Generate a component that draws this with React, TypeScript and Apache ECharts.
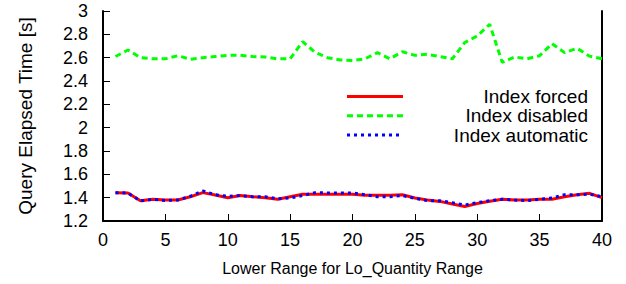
import React, { useEffect, useRef } from "react";
import * as echarts from "echarts";

const xValues = Array.from({ length: 40 }, (_, i) => i + 1);

const indexForced = [
  1.443, 1.44, 1.374, 1.386, 1.38, 1.38, 1.408, 1.443, 1.423, 1.4,
  1.418, 1.408, 1.4, 1.386, 1.408, 1.43, 1.43, 1.43, 1.43, 1.43,
  1.42, 1.42, 1.42, 1.425, 1.397, 1.38, 1.368, 1.346, 1.325, 1.35,
  1.37, 1.386, 1.38, 1.38, 1.386, 1.386, 1.408, 1.425, 1.437, 1.4,
];

const indexDisabled = [
  2.61, 2.666, 2.6, 2.59, 2.59, 2.617, 2.586, 2.6, 2.61, 2.62,
  2.62, 2.61, 2.605, 2.59, 2.59, 2.737, 2.646, 2.6, 2.58, 2.575,
  2.59, 2.643, 2.59, 2.651, 2.62, 2.629, 2.61, 2.59, 2.73, 2.786,
  2.886, 2.56, 2.606, 2.59, 2.617, 2.72, 2.643, 2.68, 2.613, 2.59,
];

const indexAutomatic = [
  1.443, 1.44, 1.372, 1.386, 1.376, 1.38, 1.412, 1.457, 1.425, 1.412,
  1.418, 1.408, 1.408, 1.39, 1.398, 1.418, 1.443, 1.44, 1.44, 1.44,
  1.425, 1.408, 1.408, 1.418, 1.395, 1.374, 1.374, 1.357, 1.337, 1.357,
  1.374, 1.386, 1.38, 1.374, 1.386, 1.397, 1.425, 1.425, 1.43, 1.408,
];

const legendNames = ["Index forced", "Index disabled", "Index automatic"];
const colors = ["#ff0000", "#00ff00", "#0000ff"];
const lineTypes: any[] = ["solid", [6, 4], [3, 4]];

const FONT = "Liberation Sans, Arial, sans-serif";

export default function App() {
  const ref = useRef<HTMLDivElement>(null);
  useEffect(() => {
    const chart = echarts.init(ref.current!, null, { renderer: "svg" });
    const toPairs = (arr: number[]) => arr.map((v, i) => [xValues[i], v]);
    const seriesData = [indexForced, indexDisabled, indexAutomatic];
    const legendTop = 96.5;
    const legendGap = 19.3;
    const graphic: any[] = [];
    legendNames.forEach((n, i) => {
      const y = legendTop + i * legendGap;
      graphic.push({
        type: "line",
        shape: { x1: 347, y1: y, x2: 403, y2: y },
        style: { stroke: colors[i], lineWidth: 3, lineDash: i === 0 ? null : lineTypes[i] },
      });
      graphic.push({
        type: "text",
        x: 588,
        y: y,
        style: {
          text: n,
          fill: "#000",
          font: `19px ${FONT}`,
          textAlign: "right",
          textVerticalAlign: "middle",
        },
      });
    });
    chart.setOption({
      animation: false,
      textStyle: { fontFamily: FONT },
      grid: { left: 103, right: 24, top: 11, bottom: 63 },
      xAxis: {
        type: "value",
        min: 0,
        max: 40,
        interval: 5,
        name: "Lower Range for Lo_Quantity Range",
        nameLocation: "middle",
        nameGap: 39,
        nameTextStyle: { fontSize: 16, color: "#000", fontFamily: FONT },
        axisLine: { show: true, lineStyle: { color: "#000", width: 2 } },
        axisTick: { show: true, inside: true, length: 7, lineStyle: { color: "#000", width: 1 } },
        axisLabel: { fontSize: 18, color: "#000", margin: 10, fontFamily: FONT },
        splitLine: { show: false },
      },
      yAxis: [
        {
          type: "value",
          min: 1.2,
          max: 3,
          interval: 0.2,
          name: "Query Elapsed Time [s]",
          nameLocation: "middle",
          nameGap: 68,
          nameTextStyle: { fontSize: 19, color: "#000", fontFamily: FONT },
          axisLine: { show: true, lineStyle: { color: "#000", width: 2 } },
          axisTick: { show: true, inside: true, length: 7, lineStyle: { color: "#000", width: 1 } },
          axisLabel: {
            fontSize: 18,
            color: "#000",
            margin: 15,
            fontFamily: FONT,
            formatter: (v: number) => String(Math.round(v * 10) / 10),
          },
          splitLine: { show: false },
        },
        {
          type: "value",
          min: 1.2,
          max: 3,
          interval: 0.2,
          position: "right",
          axisLine: { show: true, lineStyle: { color: "#000", width: 2 } },
          axisTick: { show: false },
          axisLabel: { show: false },
          splitLine: { show: false },
        },
      ],
      series: seriesData.map((d, i) => ({
        name: legendNames[i],
        type: "line",
        data: toPairs(d),
        showSymbol: false,
        symbol: "none",
        z: i === 2 ? 4 : 3,
        lineStyle: { color: colors[i], width: 3, type: lineTypes[i] },
      })),
      graphic,
    });
    return () => chart.dispose();
  }, []);
  return (
    <div
      ref={ref}
      style={{ position: "fixed", left: 0, top: 0, width: 626, height: 284, background: "#fff" }}
    />
  );
}
